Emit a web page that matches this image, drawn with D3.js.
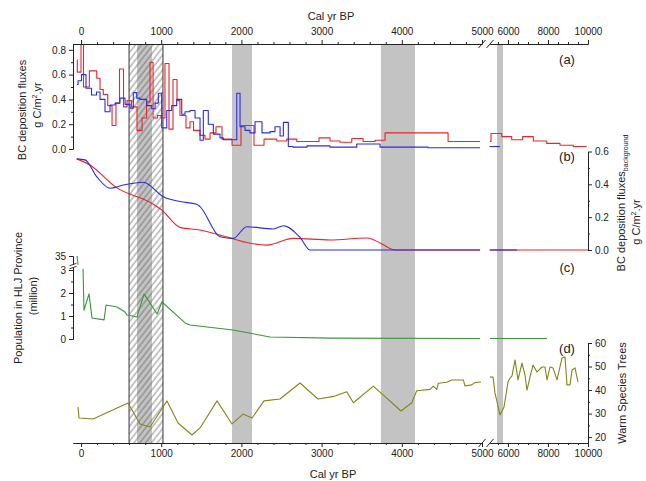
<!DOCTYPE html>
<html><head><meta charset="utf-8">
<script src="https://cdn.jsdelivr.net/npm/d3@7"></script>
<style>
body{margin:0;background:#fff}
svg text{font-family:"Liberation Sans",Arial,sans-serif;fill:#222}
</style>
</head><body>
<svg id="c" width="646" height="481"></svg>
<script>
// ---------- DATA (years BP, values) ----------
// x axis ticks
const xMajor1 = [0,1000,2000,3000,4000,5000];
const xMinor1 = [200,400,600,800,1200,1400,1600,1800,2200,2400,2600,2800,3200,3400,3600,3800,4200,4400,4600,4800];
const xMajor2 = [6000,8000,10000];
const xMinor2 = [5500,6500,7000,7500,8500,9000,9500];
// shaded periods
const grayBands = [[1883,2132],[3740,4165],[5450,5750]];
const hatchBand = [599,1022];
const hatchInnerGray = [698,885];
// (a) BC deposition fluxes (step series)
const redA1 = [[-50,0.72],[-46,0.62],[0,0.95],[31,0.50],[104,0.63],[196,0.57],[237,0.48],[278,0.44],[333,0.35],[387,0.19],[436,0.37],[480,0.645],[530,0.34],[574,0.39],[630,0.34],[698,0.15],[761,0.25],[817,0.38],[860,0.70],[898,0.25],[954,0.27],[998,0.25],[1047,0.69],[1097,0.16],[1147,0.56],[1197,0.39],[1234,0.27],[1309,0.17],[1359,0.22],[1403,0.15],[1484,0.11],[1546,0.08],[1609,0.13],[1683,0.18],[1758,0.08],[1883,0.03],[1995,0.19],[2157,0.03],[2282,0.08],[2440,0.065],[2565,0.08],[2690,0.06],[2968,0.09],[3105,0.065],[3230,0.055],[3376,0.085],[3517,0.06],[3666,0.07],[3791,0.13],[4577,0.06],[4976,0.06]];
const redA2 = [[5100,0.06],[5150,0.125],[5685,0.10],[6185,0.075],[6735,0.10],[7265,0.065],[7935,0.045],[8600,0.03],[9265,0.02],[9935,0.02]];
const blueA1 = [[-50,0.52],[-37,0.55],[6,0.60],[62,0.49],[131,0.435],[193,0.46],[237,0.40],[299,0.30],[362,0.355],[424,0.37],[486,0.41],[549,0.36],[611,0.33],[652,0.455],[695,0.41],[736,0.40],[819,0.35],[882,0.325],[923,0.37],[964,0.45],[1006,0.17],[1069,0.31],[1131,0.35],[1193,0.40],[1256,0.28],[1297,0.30],[1359,0.31],[1422,0.25],[1484,0.07],[1525,0.31],[1587,0.20],[1650,0.12],[1733,0.09],[1774,0.075],[1942,0.45],[1983,0.18],[2045,0.15],[2107,0.13],[2170,0.22],[2257,0.13],[2357,0.14],[2419,0.18],[2482,0.105],[2523,0.215],[2585,0.02],[2644,0.015],[2818,0.025],[3105,0.015],[3438,0.04],[3729,0.015],[4327,0.01],[4976,0.01]];
const blueA2 = [[5080,0.02],[5600,0.02]];
// (b) background BC fluxes (smooth)
const redB1 = [[-54,0.555],[112,0.518],[424,0.386],[902,0.279],[1006,0.244],[1234,0.138],[1484,0.122],[1775,0.085],[2107,0.041],[2315,0.030],[2647,0.071],[3105,0.061],[3567,0.073],[3729,0.043],[3916,0],[4976,0]];
const redB2 = [[5100,0],[10000,0]];
const blueB1 = [[-54,0.555],[50,0.549],[196,0.447],[362,0.376],[528,0.396],[777,0.413],[1026,0.325],[1234,0.295],[1443,0.279],[1484,0.264],[1733,0.081],[1899,0.071],[2066,0.142],[2398,0.128],[2523,0.148],[2731,0.077],[2855,0],[4976,0]];
const blueB2 = [[5080,0],[6450,0]];
// (c) population (million)
const popUpper = [[-50,35],[-37,30.6]];
const popLower1 = [[25,3.05],[37,1.26],[100,1.96],[137,0.91],[287,0.83],[312,1.48],[449,1.39],[549,1.17],[574,1.04],[698,0.96],[786,1.96],[948,1.09],[1010,1.61],[1297,0.70],[1359,0.61],[1895,0.39],[2357,0.09],[3105,0.04],[4976,0.02]];
const popLower2 = [[5100,0.02],[7950,0.02]];
// (d) warm species trees (%)
const warm1 = [[-37,32.8],[-25,28.1],[150,27.7],[586,34.5],[736,25.6],[860,24.3],[1023,32.8],[1072,35.4],[1210,26.0],[1384,20.9],[1484,23.9],[1696,35.4],[1883,25.6],[2020,29.8],[2132,28.1],[2282,35.4],[2481,36.2],[2731,43.0],[2955,36.2],[3150,37.3],[3313,39.3],[3396,34.6],[3645,41.7],[3990,31.1],[4124,34.6],[4186,39.7],[4352,40.3],[4393,41.7],[4436,40.3],[4456,42.9],[4560,43.3],[4623,44.3],[4768,44.3],[4788,41.7],[4872,42.2],[4913,43.2],[4988,43.4]];
const warm2 = [[5100,45.5],[5250,45.5],[5350,38.8],[5600,29.4],[5800,32.8],[6000,43.4],[6100,45.1],[6200,46.0],[6350,52.8],[6500,44.3],[6700,51.5],[6850,46.4],[6950,40.0],[7100,45.5],[7250,50.6],[7450,47.7],[7700,49.8],[7850,49.8],[7950,44.3],[8100,49.8],[8250,49.4],[8450,44.3],[8700,53.6],[8850,54.1],[8950,42.2],[9100,42.2],[9200,48.5],[9350,49.4],[9500,43.4]];
// y ticks
const aMajor=[0,0.2,0.4,0.6,0.8], aMinor=[0.1,0.3,0.5,0.7];
const bMajor=[0,0.2,0.4,0.6], bMinor=[0.1,0.3,0.5];
const cMajor=[0,1,2,3,35], cMinor=[0.5,1.5,2.5];
const dMajor=[20,30,40,50,60], dMinor=[25,35,45,55];

// ---------- SCALES ----------
const x1 = d3.scaleLinear().domain([-100,5000]).range([73,482]);
const x2 = d3.scaleLinear().domain([5100,10000]).range([490,588]);
const X = y => y < 5050 ? x1(y) : x2(y);
const yA = d3.scaleLinear().domain([0,0.85]).range([149,43.6]);
const yB = d3.scaleLinear().domain([0,0.6]).range([250,151.5]);
const yC = d3.scaleLinear().domain([0,3.1,30,35]).range([339,267.7,266,256]);
const yD = d3.scaleLinear().domain([17.5,60]).range([443,343]);
const TOP = 44, BOT = 443;

const RED="#e8262b", BLUE="#2b2be6", GREEN="#3a983a", OLIVE="#85851a", GRAY="#c3c3c3", INK="#222";
const FONT='"Liberation Sans",Arial,sans-serif';

const svg = d3.select("#c");
const defs = svg.append("defs");
const pat = defs.append("pattern").attr("id","hatch").attr("patternUnits","userSpaceOnUse")
  .attr("width",4.6).attr("height",10).attr("patternTransform","rotate(38)");
pat.append("line").attr("x1",1).attr("y1",0).attr("x2",1).attr("y2",10).attr("stroke","#555").attr("stroke-width",0.7);
defs.append("clipPath").attr("id","clipA").append("rect").attr("x",60).attr("y",TOP).attr("width",560).attr("height",120);

// ---------- BANDS ----------
svg.append("rect").attr("x",X(hatchInnerGray[0])).attr("y",TOP).attr("width",X(hatchInnerGray[1])-X(hatchInnerGray[0])).attr("height",BOT-TOP).attr("fill",GRAY);
svg.append("rect").attr("x",X(hatchBand[0])).attr("y",TOP).attr("width",X(hatchBand[1])-X(hatchBand[0])).attr("height",BOT-TOP).attr("fill","url(#hatch)");
hatchBand.forEach(v=>svg.append("line").attr("x1",X(v)).attr("x2",X(v)).attr("y1",TOP).attr("y2",BOT).attr("stroke","#333").attr("stroke-width",1));
grayBands.forEach(b=>svg.append("rect").attr("x",X(b[0])).attr("y",TOP).attr("width",X(b[1])-X(b[0])).attr("height",BOT-TOP).attr("fill",GRAY));

// ---------- LINES ----------
function draw(data, yS, color, curve, clip){
  const p = svg.append("path").datum(data)
    .attr("d", d3.line().x(d=>X(d[0])).y(d=>yS(d[1])).curve(curve))
    .attr("fill","none").attr("stroke",color).attr("stroke-width",1.1).attr("stroke-linejoin","round");
  if(clip) p.attr("clip-path","url(#clipA)");
}
[redA1,redA2].forEach(d=>draw(d,yA,RED,d3.curveStepAfter,true));
[blueA1,blueA2].forEach(d=>draw(d,yA,BLUE,d3.curveStepAfter,true));
[redB1,redB2].forEach(d=>draw(d,yB,RED,d3.curveMonotoneX));
[blueB1,blueB2].forEach(d=>draw(d,yB,BLUE,d3.curveMonotoneX));
[popUpper,popLower1,popLower2].forEach(d=>draw(d,yC,GREEN,d3.curveLinear));
[warm1,warm2].forEach(d=>draw(d,yD,OLIVE,d3.curveLinear));

// ---------- AXES ----------
function styl(g){
  g.attr("font-family",FONT).attr("font-size",10);
  g.selectAll("path.domain").attr("stroke",INK).attr("stroke-width",1);
  g.selectAll(".tick line").attr("stroke",INK);
  g.selectAll("text").attr("fill",INK);
  return g;
}
function axisPair(gen, scale, major, minor, fmt, tr, pad){
  const g = svg.append("g").attr("transform",tr);
  g.call(gen(scale).tickValues(major).tickSize(4).tickPadding(pad||3).tickSizeOuter(0).tickFormat(fmt));
  styl(g);
  const m = svg.append("g").attr("transform",tr);
  m.call(gen(scale).tickValues(minor).tickSize(2).tickSizeOuter(0).tickFormat(""));
  styl(m);
}
const f0 = d3.format("d"), f1 = d3.format(".1f");
axisPair(d3.axisTop, x1, xMajor1, xMinor1, f0, `translate(0,${TOP})`, 5);
axisPair(d3.axisTop, x2, xMajor2, xMinor2, f0, `translate(0,${TOP})`, 5);
axisPair(d3.axisBottom, x1, xMajor1, xMinor1, f0, `translate(0,${BOT})`);
axisPair(d3.axisBottom, x2, xMajor2, xMinor2, f0, `translate(0,${BOT})`);
axisPair(d3.axisLeft, yA, aMajor, aMinor, f1, `translate(73,0)`);
axisPair(d3.axisRight, yB, bMajor, bMinor, f1, `translate(588,0)`);
axisPair(d3.axisLeft, yC, cMajor, cMinor, f0, `translate(73,0)`);
axisPair(d3.axisRight, yD, dMajor, dMinor, f0, `translate(588,0)`);

// axis break marks
[TOP,BOT].forEach(yy=>{
  [482,490].forEach(xx=>svg.append("line").attr("x1",xx-3.5).attr("y1",yy+4).attr("x2",xx+3.5).attr("y2",yy-4).attr("stroke",INK).attr("stroke-width",1));
});
svg.append("rect").attr("x",71.5).attr("y",264.8).attr("width",3).attr("height",2.6).attr("fill","#fff");
[264.5,267.6].forEach(yy=>svg.append("line").attr("x1",69.5).attr("y1",yy+1.2).attr("x2",76.5).attr("y2",yy-1.2).attr("stroke",INK).attr("stroke-width",0.9));

// ---------- TEXT ----------
function txt(x,y,s,size,rot,anchor){
  const t = svg.append("text").attr("font-family",FONT).attr("font-size",size).attr("text-anchor",anchor||"middle");
  if(rot) t.attr("transform",`translate(${x},${y}) rotate(${rot})`); else t.attr("x",x).attr("y",y);
  return t.text(s);
}
txt(331,20,"Cal yr BP",11);
txt(333,478,"Cal yr BP",11);
[["(a)",64],["(b)",161],["(c)",272],["(d)",353]].forEach(p=>txt(567,p[1],p[0],13));

txt(26,110,"BC deposition fluxes",11,-90);
function unitLabel(x,y){
  const t = svg.append("text").attr("font-family",FONT).attr("font-size",11).attr("text-anchor","middle")
    .attr("transform",`translate(${x},${y}) rotate(-90)`);
  t.append("tspan").text("g C/m");
  t.append("tspan").attr("dy",-4).attr("font-size",7).text("2");
  t.append("tspan").attr("dy",4).text(".yr");
}
unitLabel(41,105);
txt(21.5,298,"Population in HLJ Province",11,-90);
txt(36.5,296,"(million)",11,-90);

const tb = svg.append("text").attr("font-family",FONT).attr("font-size",11).attr("text-anchor","middle")
  .attr("transform","translate(625,203) rotate(-90)");
tb.append("tspan").text("BC deposition fluxes");
tb.append("tspan").attr("dy",3).attr("font-size",7).text("background");
unitLabel(640,222);
txt(626,393,"Warm Species Trees",11,-90);
</script>
</body></html>
